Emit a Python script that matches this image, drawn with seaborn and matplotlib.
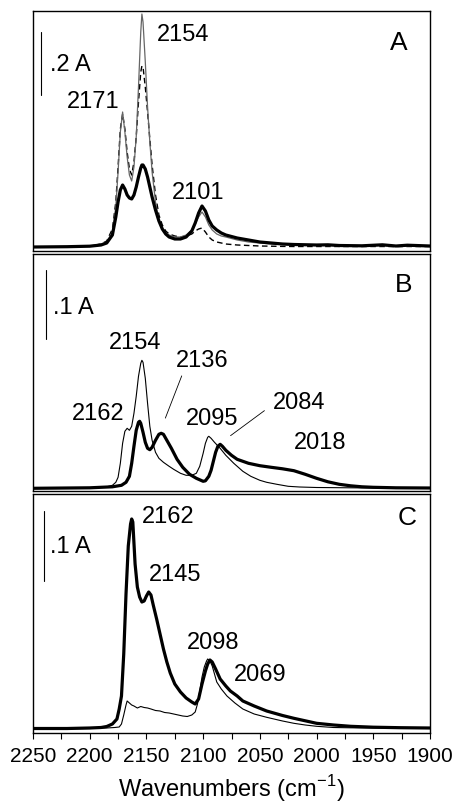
import numpy as np
import seaborn as sns
import matplotlib.pyplot as plt
from matplotlib.ticker import MultipleLocator

# Spectra (heights above baseline, in picture units)
# Panel A
wn_a = [2250, 2220, 2200, 2190, 2185, 2180, 2177, 2175, 2173, 2171,
        2169, 2167, 2165, 2163, 2161, 2159, 2157, 2155, 2154, 2153,
        2151, 2149, 2147, 2145, 2142, 2139, 2136, 2133, 2130, 2125,
        2120, 2115, 2110, 2107, 2104, 2101, 2098, 2095, 2092, 2088,
        2084, 2080, 2070, 2060, 2050, 2040, 2030, 2020, 2000, 1990,
        1980, 1960, 1942, 1930, 1920, 1900]
thick_a = [0, 0.3, 0.8, 2, 4, 12, 30, 45, 57, 62,
           58, 52, 49, 48, 52, 60, 70, 79, 82, 82,
           78, 70, 60, 50, 37, 26, 18, 13, 10, 8,
           8, 10, 16, 24, 34, 41, 36, 27, 21, 17,
           14, 12, 9, 7, 5, 4, 3, 2.5, 2, 2.2,
           1.5, 1.2, 2.2, 1, 1.8, 1]
thin_a = [0, 0.3, 1, 3, 5, 15, 40, 75, 115, 135,
          115, 90, 72, 66, 80, 110, 160, 215, 233, 225,
          185, 140, 105, 75, 45, 27, 18, 14, 12, 10,
          10, 12, 17, 23, 30, 35, 30, 22, 17, 13,
          11, 10, 7, 5, 4, 3, 2.5, 2, 1.5, 1.5,
          1.2, 1, 1.5, 0.8, 1.2, 0.8]
dash_a = [0, 0.3, 1, 3, 6, 18, 45, 80, 118, 133,
          118, 95, 78, 72, 85, 110, 145, 175, 181, 180,
          160, 135, 108, 82, 52, 32, 22, 16, 13, 11,
          10, 11, 13, 16, 18, 19, 15, 10, 7, 5,
          4, 3, 2, 1.5, 1, 0.8, 0.6, 0.5, 0.5, 0.5,
          0.5, 0.5, 0.5, 0.5, 0.5, 0.5]

# Panel B
wn_b_thin = [2250, 2200, 2185, 2180, 2177, 2175, 2173, 2171, 2169, 2167,
             2165, 2163, 2161, 2159, 2157, 2155, 2154, 2153, 2151, 2149,
             2147, 2145, 2142, 2139, 2135, 2130, 2126, 2120, 2115, 2110,
             2106, 2103, 2100, 2098, 2096, 2095, 2093, 2090, 2085, 2080,
             2073, 2065, 2058, 2050, 2044, 2035, 2025, 2015, 2000, 1950,
             1900]
thin_b = [0, 0.5, 1.5, 3, 6, 11, 25, 45, 57, 60,
          58, 62, 75, 92, 112, 125, 128, 126, 110, 85,
          62, 48, 36, 30, 26, 22, 19, 15, 13, 13,
          15, 22, 35, 45, 51, 52, 50, 46, 40, 33,
          25, 17, 12, 8, 6, 4, 2, 1.3, 0.8, 0.3,
          0]
wn_b_thick = [2250, 2200, 2180, 2172, 2168, 2165, 2163, 2161, 2159, 2157,
              2156, 2155, 2153, 2151, 2149, 2147, 2145, 2142, 2139, 2137,
              2135, 2132, 2128, 2123, 2118, 2112, 2106, 2100, 2098, 2095,
              2093, 2091, 2089, 2087, 2085, 2083, 2080, 2075, 2070, 2060,
              2050, 2040, 2030, 2020, 2010, 2000, 1990, 1980, 1970, 1960,
              1950, 1930, 1900]
thick_b = [0, 0.5, 1.5, 3, 6, 12, 25, 42, 58, 66,
           67, 65, 56, 46, 40, 38.6, 41, 48, 54, 55,
           54, 48, 40, 29, 21, 14, 10, 7, 7.5, 12,
           18, 27, 36, 42, 44, 42, 38, 33, 29, 25,
           22.6, 21, 19.5, 17.6, 14, 10, 6.5, 4, 2.5, 1.5,
           1, 0.5, 0.3]

# Panel C
wn_c_thick = [2250, 2220, 2200, 2190, 2185, 2180, 2176, 2174, 2172, 2170,
              2168, 2166, 2164, 2163, 2162, 2160, 2158, 2156, 2154, 2152,
              2150, 2148, 2146, 2144, 2141, 2138, 2135, 2132, 2129, 2125,
              2120, 2115, 2110, 2107, 2104, 2101, 2098, 2096, 2094, 2092,
              2089, 2085, 2080, 2076, 2070, 2065, 2055, 2044, 2030, 2020,
              2000, 1985, 1970, 1950, 1926, 1900]
thick_c = [0.5, 0.5, 1, 1.5, 2.5, 5, 10, 20, 33, 75,
           135, 183, 205, 210, 207, 165, 142, 132, 127, 128,
           133, 137, 134, 124, 110, 95, 80, 67, 56, 45,
           37, 31, 27, 25, 30, 45, 58, 65, 69, 67,
           60, 50, 43, 38, 33, 28, 23, 18, 13.5, 10.7,
           5.7, 4, 2.7, 1.8, 1.3, 1]
wn_c_thin = [2250, 2220, 2200, 2185, 2178, 2174, 2172, 2170, 2168, 2167,
             2165, 2163, 2161, 2158, 2155, 2152, 2149, 2146, 2142, 2138,
             2134, 2130, 2126, 2122, 2118, 2114, 2110, 2107, 2105, 2103,
             2101, 2099, 2097, 2096, 2094, 2092, 2088, 2084, 2079, 2072,
             2065, 2055, 2044, 2030, 2020, 2010, 2000, 1985, 1970, 1950,
             1926, 1900]
thin_c = [0.5, 0.3, 0.5, 1, 1.5, 2, 5, 14, 24, 28,
          26, 24, 23, 21, 22.5, 21.5, 21, 20, 18.5, 18,
          16.5, 16, 15, 14, 13, 12.5, 14, 17, 25, 38,
          52, 62, 68, 70, 68, 63, 47, 40, 33, 26,
          20, 15, 11.7, 8, 5.7, 4, 2.7, 1.5, 1.2, 1,
          0.8, 0.6]

xticks = [2250, 2200, 2150, 2100, 2050, 2000, 1950, 1900]

sns.set_theme(style="white")
plt.rcParams['font.family'] = ['Liberation Sans', 'DejaVu Sans']
plt.rcParams['mathtext.fontset'] = 'custom'
plt.rcParams['mathtext.rm'] = 'Liberation Sans'
plt.rcParams['text.color'] = 'black'
plt.rcParams['axes.labelcolor'] = 'black'
plt.rcParams['xtick.color'] = 'black'

W, H = 453, 803
fig = plt.figure(figsize=(W / 100, H / 100), dpi=100)


def px_axes(top, bottom):
    left, right = 33, 430
    return fig.add_axes([left / W, 1 - bottom / H, (right - left) / W, (bottom - top) / H])


def ftext(x, y, s, size=17, **kw):
    fig.text(x / W, 1 - y / H, s, fontsize=size, ha="center", va="center",
             color="black", **kw)


ax_a = px_axes(12, 252)
ax_b = px_axes(255, 492)
ax_c = px_axes(495, 734)

thick_kw = dict(color="black", lw=2.3, estimator=None)
thin_kw = dict(color="black", lw=0.8, estimator=None)

sns.lineplot(x=wn_a, y=dash_a, ax=ax_a, color="black", lw=1.0,
             linestyle=(0, (4, 2.5)), estimator=None)
sns.lineplot(x=wn_a, y=thin_a, ax=ax_a, color="#666666", lw=0.9, estimator=None)
sns.lineplot(x=wn_a, y=thick_a, ax=ax_a, **thick_kw)

sns.lineplot(x=wn_b_thin, y=thin_b, ax=ax_b, **thin_kw)
sns.lineplot(x=wn_b_thick, y=thick_b, ax=ax_b, **thick_kw)

sns.lineplot(x=wn_c_thin, y=thin_c, ax=ax_c, **thin_kw)
sns.lineplot(x=wn_c_thick, y=thick_c, ax=ax_c, **thick_kw)

ylims = {ax_a: (-4, 236), ax_b: (-2.7, 234.3), ax_c: (-4, 235)}
for ax in (ax_a, ax_b, ax_c):
    ax.set_xlim(2250, 1900)
    ax.set_ylim(*ylims[ax])
    ax.set_yticks([])
    ax.set_ylabel("")
    ax.set_xlabel("")
    for sp in ax.spines.values():
        sp.set_color("black")
        sp.set_linewidth(1.0)
        sp.set_visible(True)
    ax.tick_params(axis="x", bottom=False, labelbottom=False)

ax_c.set_xticks(xticks)
ax_c.xaxis.set_minor_locator(MultipleLocator(25))
ax_c.tick_params(axis="x", which="both", bottom=True, labelbottom=True,
                 direction="out", length=4.5, width=0.8, color="black",
                 labelsize=15, labelcolor="black", pad=5)
ax_c.set_xlabel(r"Wavenumbers (cm$^{\mathregular{-1}}$)", fontsize=17,
                labelpad=5, color="black")

# scale bars
ax_a.plot([2243, 2243], [152, 215], color="black", lw=0.8)
ax_b.plot([2238.5, 2238.5], [149, 218], color="black", lw=0.8)
ax_c.plot([2240.3, 2240.3], [148, 218], color="black", lw=0.8)

# leader lines in panel B
ax_b.annotate("", xy=(2134.2, 67.6), xytext=(2118, 115),
              arrowprops=dict(arrowstyle="-", lw=0.6, color="black"))
ax_b.annotate("", xy=(2077.8, 51), xytext=(2044, 79.3),
              arrowprops=dict(arrowstyle="-", lw=0.6, color="black"))

# labels (pixel positions)
ftext(70, 65, ".2 A")
ftext(399, 43, "A", size=19)
ftext(183, 35, "2154")
ftext(93, 102, "2171")
ftext(198, 193, "2101")

ftext(73, 308, ".1 A")
ftext(404, 285, "B", size=19)
ftext(135, 343, "2154")
ftext(202, 361, "2136")
ftext(98, 414, "2162")
ftext(212, 419, "2095")
ftext(299, 403, "2084")
ftext(320, 443, "2018")

ftext(70, 547, ".1 A")
ftext(407, 518, "C", size=19)
ftext(168, 517, "2162")
ftext(175, 575, "2145")
ftext(213, 643, "2098")
ftext(260, 675, "2069")

fig.savefig("out.png", dpi=100)
